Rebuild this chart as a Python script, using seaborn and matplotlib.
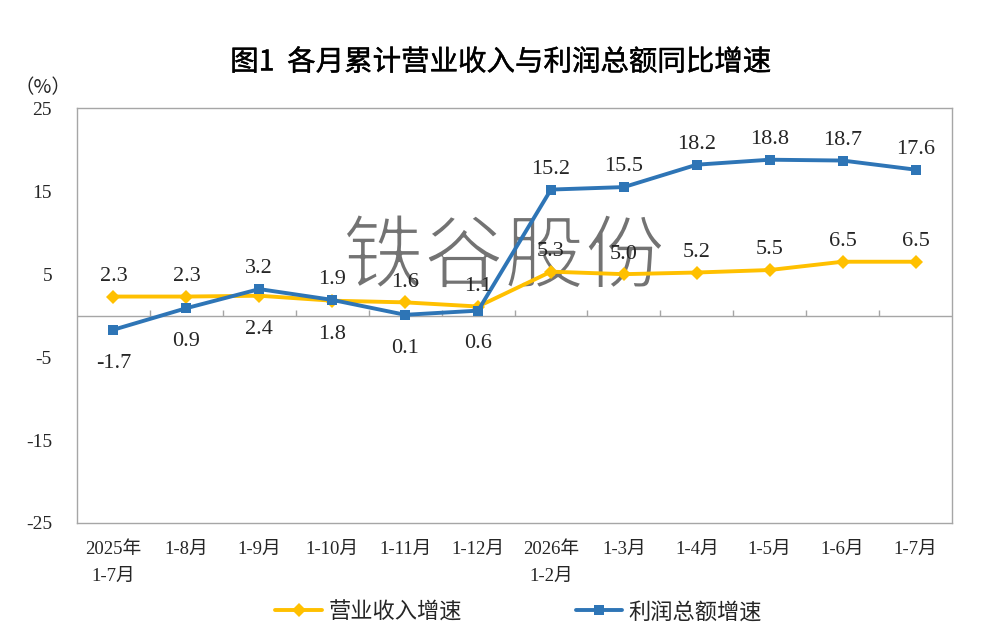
import numpy as np
import pandas as pd
import matplotlib
matplotlib.use("Agg")
import matplotlib.pyplot as plt
import matplotlib.patheffects as pe
import seaborn as sns

# 数据
months = ["2025年\n1-7月", "1-8月", "1-9月", "1-10月", "1-11月", "1-12月",
          "2026年\n1-2月", "1-3月", "1-4月", "1-5月", "1-6月", "1-7月"]
revenue = [2.3, 2.3, 2.4, 1.8, 1.6, 1.1, 5.3, 5.0, 5.2, 5.5, 6.5, 6.5]
profit = [-1.7, 0.9, 3.2, 1.9, 0.1, 0.6, 15.2, 15.5, 18.2, 18.8, 18.7, 17.6]
# 标签在点的上方(1)还是下方(-1)
revenue_pos = [1, 1, -1, -1, 1, 1, 1, 1, 1, 1, 1, 1]
profit_pos = [-1, -1, 1, 1, -1, -1, 1, 1, 1, 1, 1, 1]
yticks = [25, 15, 5, -5, -15, -25]

sns.set_style("white")
plt.rcParams["font.family"] = ["Liberation Serif", "Noto Sans CJK SC", "DejaVu Sans"]
plt.rcParams["axes.unicode_minus"] = False

yellow = "#FFC000"
blue = "#2E75B6"
gray = "#A6A6A6"

df = pd.DataFrame({"x": np.arange(len(months)), "rev": revenue, "pro": profit})

fig = plt.figure(figsize=(10, 6.37), dpi=100)
ax = fig.add_axes([0.077, 0.179, 0.875, 0.651])

sns.lineplot(data=df, x="x", y="rev", ax=ax, color=yellow, lw=2.8, marker="D",
             markersize=7.5, markeredgewidth=0, label="营业收入增速", zorder=3)
sns.lineplot(data=df, x="x", y="pro", ax=ax, color=blue, lw=2.8, marker="s",
             markersize=6.5, markeredgewidth=0, label="利润总额增速", zorder=4)

ax.set_xlim(-0.5, len(months) - 0.5)
ax.set_ylim(-25, 25)
ax.set_yticks(yticks)
ax.set_yticklabels([str(t) for t in yticks], fontsize=14)
ax.set_xticks(df["x"])
ax.set_xticklabels(months, fontsize=13.5, linespacing=1.75)
ax.tick_params(axis="x", length=0, pad=13)
ax.tick_params(axis="y", direction="in", length=5, color=gray, pad=18)
ax.set_xlabel("")
ax.set_ylabel("")
for s in ax.spines.values():
    s.set_color(gray)
    s.set_linewidth(1)

# 零线及分隔刻度
ax.axhline(0, color=gray, lw=1, zorder=1)
ax.vlines(df["x"][:-1] + 0.5, 0, 0.7, color=gray, lw=1, zorder=1)

# 数据标签
def off(p):
    return 14.5 if p > 0 else -24

for i in range(len(months)):
    ax.annotate(f"{revenue[i]:.1f}", (i, revenue[i]), xytext=(0, off(revenue_pos[i])),
                textcoords="offset points", ha="center", va="center", fontsize=16, zorder=6)
    ax.annotate(f"{profit[i]:.1f}", (i, profit[i]), xytext=(0, off(profit_pos[i])),
                textcoords="offset points", ha="center", va="center", fontsize=16, zorder=6)

# 水印
ax.text(0.488, 0.638, "铁谷股份", transform=ax.transAxes, ha="center", va="center",
        fontsize=58, color="#737373", family=["Noto Sans CJK SC"], zorder=2,
        path_effects=[pe.Stroke(linewidth=1.6, foreground="white")])

fig.text(0.501, 0.902, "图1  各月累计营业收入与利润总额同比增速", ha="center", va="center",
         fontsize=20.5, family=["Noto Sans CJK SC"], color="black",
         path_effects=[pe.withStroke(linewidth=0.3, foreground="black")])
fig.text(0.043, 0.862, "（%）", ha="center", va="center", fontsize=14,
         family=["Noto Sans CJK SC"])

leg = ax.legend(loc="upper center", bbox_to_anchor=(0.505, -0.138), ncol=2, frameon=False,
                handlelength=2.1, handletextpad=0.3, columnspacing=5.1,
                prop={"family": ["Noto Sans CJK SC"], "size": 16})

fig.savefig("out.png", dpi=100)
